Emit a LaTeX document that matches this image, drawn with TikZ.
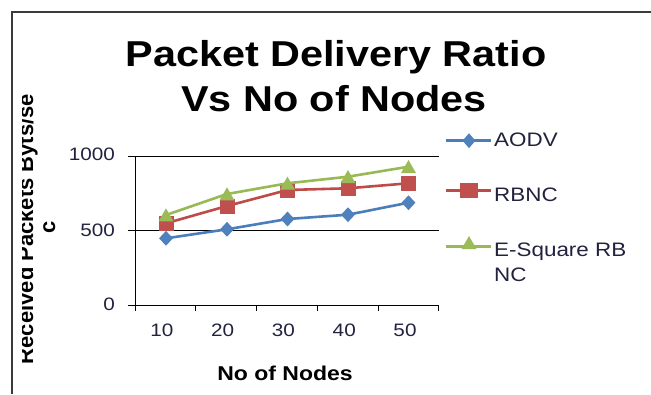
\documentclass[tikz,border=0pt]{standalone}
\usepackage{fontspec}
\setmainfont{Liberation Sans}
\usepackage{graphicx}
\usetikzlibrary{shapes.geometric}
\definecolor{framec}{HTML}{3A3A3A}
\definecolor{txtc}{HTML}{22223F}
\definecolor{aodvline}{HTML}{4A7EBB}
\definecolor{aodvmark}{HTML}{4F81BD}
\definecolor{rbncline}{HTML}{BE4B48}
\definecolor{rbncmark}{HTML}{C0504D}
\definecolor{esqline}{HTML}{98B954}
\definecolor{esqmark}{HTML}{9BBB59}
\newcommand\hs[1]{\scalebox{1.15}[1]{#1}}
\begin{document}
\begin{tikzpicture}[x=1pt,y=-1pt,
  axisline/.style={black,line width=1pt},
  serline/.style={line width=2.6pt,line join=round},
  dmark/.style={diamond,fill=aodvmark,inner sep=0pt,minimum width=14pt,minimum height=15pt},
  smark/.style={rectangle,fill=rbncmark,inner sep=0pt,minimum size=15pt},
  tmark/.style={regular polygon,regular polygon sides=3,fill=esqmark,inner sep=0pt,minimum size=17.3pt},
  ticklab/.style={font=\fontsize{18}{18}\selectfont,text=txtc,inner sep=0pt},
  legtext/.style={font=\fontsize{19.5}{25}\selectfont,text=txtc,inner sep=0pt,anchor=base west},
  titletext/.style={font=\fontsize{36}{36}\selectfont\bfseries,inner sep=0pt,anchor=base}]
\useasboundingbox (0,0) rectangle (651,394);
\clip (0,0) rectangle (651,394);
\fill[white] (0,0) rectangle (651,394);
% chart frame
\draw[framec,line width=1.5pt] (12,394) -- (12,12) -- (651,12);
% title
\node[titletext] (t1) at (336,66.7) {\hs{Packet Delivery Ratio}};
\node[titletext] (t2) at (334,111.7) {\hs{Vs No of Nodes}};
% y axis title (clipped at top of letters)
\begin{scope}
\clip (22,80) rectangle (70,385);
\node[rotate=90,anchor=base,inner sep=0pt,font=\fontsize{22}{22}\selectfont\bfseries] (yl1) at (33,229) {Received Packets Byts/se};
\node[rotate=90,anchor=base,inner sep=0pt,font=\fontsize{22}{22}\selectfont\bfseries] (yl2) at (55,227) {c};
\end{scope}
% grid and axes
\draw[axisline] (128,156) -- (439,156);
\draw[axisline] (128,230.7) -- (439,230.7);
\draw[axisline] (135,156) -- (135,311);
\draw[axisline] (128,305) -- (439,305);
\foreach \i in {0,...,5} {
  \draw[axisline] ({135+\i*60.75},305) -- ({135+\i*60.75},311);
}
% y tick labels
\node[ticklab,anchor=base east] (y1000) at (115,160.5) {\hs{1000}};
\node[ticklab,anchor=base east] (y500) at (115,236.5) {\hs{500}};
\node[ticklab,anchor=base east] (y0) at (115,310) {\hs{0}};
% x tick labels
\foreach \lab [count=\i from 0] in {10,20,30,40,50} {
  \node[ticklab,anchor=base] (x\lab) at ({162+\i*60.75},336) {\hs{\lab}};
}
% x axis title
\node[inner sep=0pt,anchor=base,font=\fontsize{20}{20}\selectfont\bfseries] (xt) at (285,380) {\hs{No of Nodes}};
% data points
\coordinate (a1) at (166,238.3);
\coordinate (a2) at (227,229.3);
\coordinate (a3) at (287.5,219);
\coordinate (a4) at (348,214.7);
\coordinate (a5) at (408.5,202.7);
\coordinate (r1) at (166,223.3);
\coordinate (r2) at (227,206);
\coordinate (r3) at (287.5,190);
\coordinate (r4) at (348,188.3);
\coordinate (r5) at (408.5,183.3);
\coordinate (e1) at (166,215);
\coordinate (e2) at (227,194);
\coordinate (e3) at (287.5,183.3);
\coordinate (e4) at (348,176.7);
\coordinate (e5) at (408.5,166.7);
% series AODV
\draw[serline,aodvline] (a1) -- (a2) -- (a3) -- (a4) -- (a5);
\foreach \p in {a1,a2,a3,a4,a5} \node[dmark] at (\p) {};
% series RBNC
\draw[serline,rbncline] (r1) -- (r2) -- (r3) -- (r4) -- (r5);
\foreach \p in {r1,r2,r3,r4,r5} \node[smark] at (\p) {};
% series E-Square RBNC
\draw[serline,esqline] (e1) -- (e2) -- (e3) -- (e4) -- (e5);
\foreach \p in {e1,e2,e3,e4,e5} \node[tmark] at ([yshift=-2pt]\p) {};
% legend
\coordinate (la0) at (446,140.7); \coordinate (la1) at (491,140.7);
\coordinate (lr0) at (446,190.7); \coordinate (lr1) at (491,190.7);
\coordinate (le0) at (446,246.7); \coordinate (le1) at (491,246.7);
\draw[serline,aodvline] (la0) -- (la1);
\node[dmark,minimum width=13pt] (lam) at (469,140.7) {};
\draw[serline,rbncline] (lr0) -- (lr1);
\node[smark,minimum width=18pt] (lrm) at (469,190.7) {};
\draw[serline,esqline] (le0) -- (le1);
\node[tmark] (lem) at (469,244.7) {};
\node[legtext] (lat) at (494,146.7) {\hs{AODV}};
\node[legtext] (lrt) at (494,201.7) {\hs{RBNC}};
\node[legtext] (let) at (494,256) {\hs{E-Square RB}};
\node[legtext] (let2) at (494,281) {\hs{NC}};
\end{tikzpicture}
\end{document}
